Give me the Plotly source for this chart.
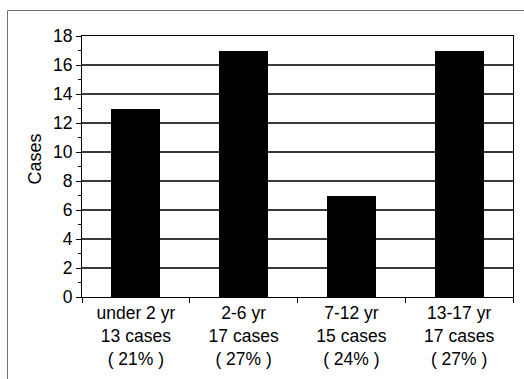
import plotly.graph_objects as go

# Age groups and the bar heights drawn for each
age_groups = ["under 2 yr", "2-6 yr", "7-12 yr", "13-17 yr"]
bar_values = [13, 17, 7, 17]
# Case counts and shares printed under each group
case_counts = [13, 17, 15, 17]
case_pcts = [21, 27, 24, 27]

y_ticks = list(range(0, 19, 2))

tick_text = [
    f"{g}<br>{n} cases<br>( {p}% )"
    for g, n, p in zip(age_groups, case_counts, case_pcts)
]

W, H = 524, 379
L, R, T, B = 82, 11, 36, 82
plot_w = W - L - R
plot_h = H - T - B

FONT = "Liberation Sans, Arial, sans-serif"

fig = go.Figure(
    go.Bar(
        x=age_groups,
        y=bar_values,
        width=0.455,
        marker=dict(color="black", line=dict(width=0)),
    )
)

fig.update_layout(
    width=W,
    height=H,
    margin=dict(l=L, r=R, t=T, b=B),
    paper_bgcolor="white",
    plot_bgcolor="white",
    showlegend=False,
    font=dict(family=FONT, size=18, color="black"),
    bargap=0,
)

fig.update_xaxes(
    tickmode="array",
    tickvals=age_groups,
    ticktext=tick_text,
    tickson="boundaries",
    ticks="outside",
    ticklen=5,
    tickcolor="black",
    showline=True,
    linecolor="black",
    linewidth=1,
    mirror=True,
    showgrid=False,
    tickfont=dict(size=17.5),
)

fig.update_yaxes(
    range=[0, 18],
    tickmode="array",
    tickvals=y_ticks,
    ticks="outside",
    ticklen=5,
    tickcolor="black",
    showline=True,
    linecolor="black",
    linewidth=1,
    mirror=True,
    showgrid=True,
    gridcolor="#3a3a3a",
    gridwidth=1.5,
    zeroline=False,
    tickfont=dict(size=17.5),
    minor=dict(dtick=1, ticks="outside", ticklen=3, tickcolor="black", showgrid=False),
)

# Axis title placed beside the tick labels
fig.add_annotation(
    text="Cases",
    xref="paper",
    yref="paper",
    x=(34.5 - L) / plot_w,
    y=(H - B - 159) / plot_h,
    textangle=-90,
    showarrow=False,
    font=dict(size=18),
    xanchor="center",
    yanchor="middle",
)

# Outer chart frame
fig.add_shape(
    type="rect",
    xref="paper",
    yref="paper",
    x0=(7.5 - L) / plot_w,
    x1=(540 - L) / plot_w,
    y0=(H - B - 400) / plot_h,
    y1=(H - B - 10.5) / plot_h,
    line=dict(color="#6e6e6e", width=1),
    fillcolor="rgba(0,0,0,0)",
    layer="below",
)

fig.write_html("out.html")
